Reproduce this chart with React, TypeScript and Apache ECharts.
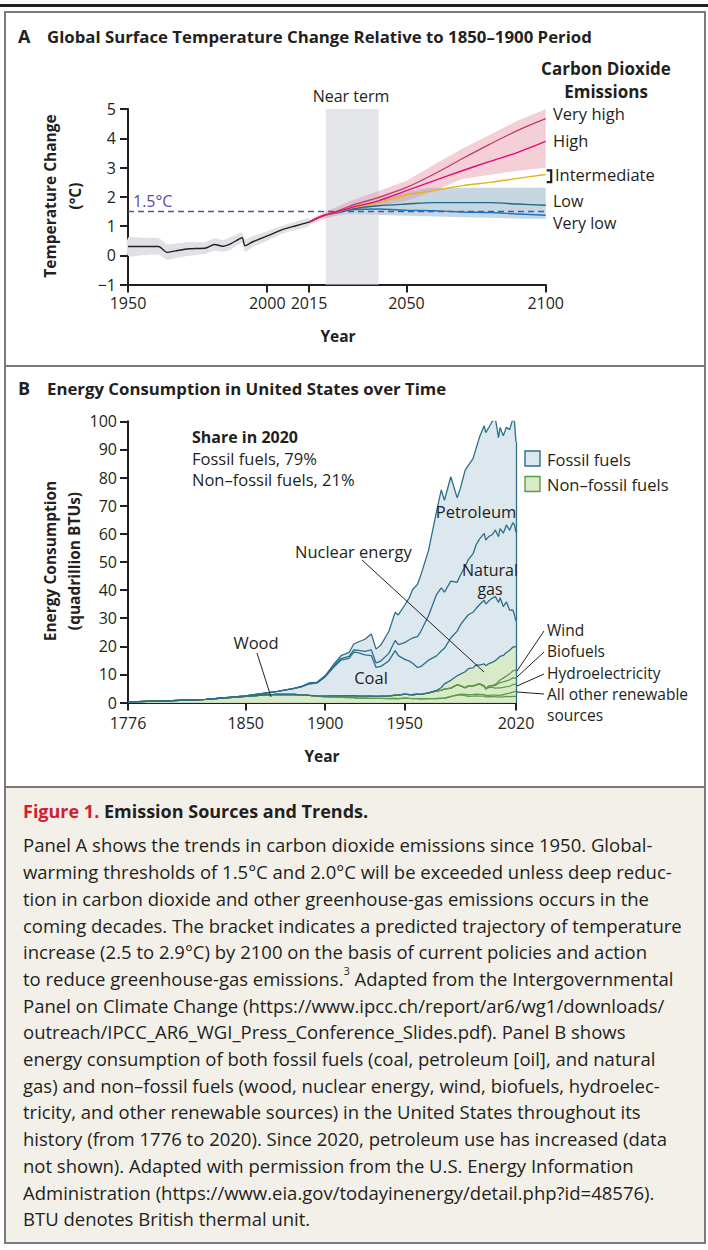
import React, { useEffect, useRef } from 'react';
import * as echarts from 'echarts';

// ---------- Panel A data ----------
const tickYearsA = [1950, 2000, 2015, 2050, 2100];
const histYears = [1950, 1955, 1961, 1964, 1967, 1972, 1978, 1981, 1984, 1987, 1991, 1992, 1995, 2000, 2005, 2010, 2015];
const histMean = [0.3, 0.3, 0.3, 0.1, 0.15, 0.22, 0.25, 0.37, 0.31, 0.4, 0.6, 0.32, 0.47, 0.66, 0.86, 1.0, 1.13];
const histLow = [-0.02, 0.0, 0.02, -0.15, -0.1, -0.02, 0.05, 0.15, 0.12, 0.2, 0.42, 0.12, 0.3, 0.5, 0.72, 0.87, 1.0];
const histHigh = [0.6, 0.6, 0.58, 0.38, 0.4, 0.45, 0.45, 0.58, 0.52, 0.62, 0.78, 0.55, 0.66, 0.82, 1.0, 1.14, 1.26];

const scenYears = [2015, 2020, 2025, 2030, 2040, 2050, 2060, 2070, 2080, 2090, 2100];
const veryHigh = [1.13, 1.35, 1.5, 1.69, 1.98, 2.32, 2.78, 3.3, 3.8, 4.27, 4.67];
const high = [1.13, 1.35, 1.48, 1.63, 1.86, 2.21, 2.55, 2.89, 3.21, 3.52, 3.89];
const intermediate = [1.13, 1.35, 1.47, 1.61, 1.8, 2.07, 2.21, 2.38, 2.49, 2.63, 2.76];
const low = [1.13, 1.35, 1.46, 1.58, 1.69, 1.75, 1.8, 1.8, 1.8, 1.75, 1.71];
const veryLow = [1.13, 1.35, 1.45, 1.55, 1.58, 1.54, 1.52, 1.48, 1.46, 1.41, 1.37];

const pinkYears = [2015, 2020, 2030, 2040, 2050, 2060, 2070, 2080, 2090, 2100];
const pinkLow = [1.05, 1.22, 1.52, 1.68, 1.86, 2.2, 2.61, 2.75, 2.89, 2.99];
const pinkHigh = [1.2, 1.45, 1.86, 2.2, 2.55, 3.1, 3.64, 4.12, 4.61, 4.99];

const blueYears = [2020, 2030, 2040, 2050, 2058, 2070, 2080, 2090, 2100];
const blueLow = [1.3, 1.4, 1.38, 1.35, 1.33, 1.3, 1.28, 1.26, 1.24];
const blueHigh = [1.4, 1.75, 1.98, 2.17, 2.31, 2.31, 2.31, 2.31, 2.31];

const nearTerm = [2021, 2040];
const threshold = 1.5;
const bracketRange = [2.5, 2.9];

// ---------- Panel B data (quadrillion BTUs) ----------
const tickYearsB = [1776, 1850, 1900, 1950, 2020];
const energyYears = [1776, 1800, 1825, 1850, 1860, 1870, 1880, 1885, 1890, 1895, 1900, 1905, 1910, 1915, 1918, 1920, 1925, 1929, 1932, 1935, 1940, 1944, 1946, 1950, 1953, 1955, 1958, 1960, 1965, 1970, 1973, 1975, 1979, 1983, 1985, 1988, 1990, 1993, 1995, 1997, 2000, 2001, 2003, 2005, 2007, 2009, 2010, 2012, 2014, 2016, 2018, 2019, 2020];
const wood = [0.25, 0.55, 1.1, 2.15, 2.6, 2.9, 2.85, 2.7, 2.5, 2.25, 2.0, 1.95, 1.85, 1.75, 1.7, 1.6, 1.55, 1.5, 1.45, 1.45, 1.4, 1.45, 1.4, 1.55, 1.45, 1.4, 1.35, 1.3, 1.35, 1.4, 1.5, 1.5, 2.1, 2.6, 2.7, 2.45, 2.2, 2.25, 2.35, 2.3, 2.25, 2.0, 2.05, 2.1, 2.1, 1.9, 2.0, 2.0, 2.2, 2.1, 2.2, 2.2, 2.1];
const otherRenewables = [0, 0, 0, 0, 0, 0, 0, 0, 0, 0, 0, 0, 0, 0, 0, 0, 0, 0, 0, 0, 0, 0, 0, 0, 0, 0, 0, 0.01, 0.02, 0.02, 0.05, 0.07, 0.08, 0.15, 0.25, 0.4, 0.55, 0.6, 0.6, 0.6, 0.55, 0.5, 0.5, 0.55, 0.55, 0.6, 0.65, 0.75, 0.95, 1.2, 1.5, 1.65, 1.85];
const hydro = [0, 0, 0, 0, 0, 0, 0, 0.01, 0.02, 0.1, 0.25, 0.39, 0.54, 0.66, 0.7, 0.74, 0.7, 0.79, 0.73, 0.8, 0.88, 1.2, 1.25, 1.42, 1.35, 1.35, 1.6, 1.6, 2.05, 2.63, 2.86, 3.15, 2.93, 3.5, 2.97, 2.33, 3.05, 2.9, 3.2, 3.64, 2.81, 2.24, 2.83, 2.7, 2.45, 2.67, 2.54, 2.63, 2.47, 2.47, 2.69, 2.56, 2.6];
const biofuels = [0, 0, 0, 0, 0, 0, 0, 0, 0, 0, 0, 0, 0, 0, 0, 0, 0, 0, 0, 0, 0, 0, 0, 0, 0, 0, 0, 0, 0, 0, 0, 0, 0, 0.06, 0.08, 0.08, 0.1, 0.12, 0.15, 0.15, 0.23, 0.25, 0.4, 0.6, 1.0, 1.6, 1.9, 1.95, 2.1, 2.3, 2.35, 2.3, 2.0];
const wind = [0, 0, 0, 0, 0, 0, 0, 0, 0, 0, 0, 0, 0, 0, 0, 0, 0, 0, 0, 0, 0, 0, 0, 0, 0, 0, 0, 0, 0, 0, 0, 0, 0, 0, 0, 0.02, 0.03, 0.03, 0.03, 0.03, 0.06, 0.07, 0.11, 0.18, 0.34, 0.72, 0.92, 1.34, 1.73, 2.1, 2.5, 2.7, 3.0];
const nuclear = [0, 0, 0, 0, 0, 0, 0, 0, 0, 0, 0, 0, 0, 0, 0, 0, 0, 0, 0, 0, 0, 0, 0, 0, 0, 0, 0.002, 0.006, 0.04, 0.24, 0.91, 1.9, 2.78, 3.2, 4.08, 5.66, 6.1, 6.41, 7.08, 6.6, 7.86, 8.03, 7.96, 8.16, 8.46, 8.36, 8.43, 8.06, 8.34, 8.43, 8.44, 8.45, 8.25];
const coal = [0, 0.01, 0.02, 0.22, 0.52, 1.05, 2.05, 2.84, 4.06, 4.6, 6.84, 10.0, 12.7, 13.3, 15.5, 15.5, 14.7, 14.4, 10.3, 10.6, 12.5, 15.8, 14.0, 12.35, 11.9, 11.2, 9.5, 9.84, 11.6, 12.3, 12.97, 12.66, 15.04, 15.89, 17.48, 18.85, 19.17, 19.8, 20.09, 21.45, 22.58, 21.91, 22.32, 22.8, 22.75, 19.69, 20.83, 17.38, 17.99, 14.23, 13.25, 11.32, 9.18];
const naturalGas = [0, 0, 0, 0, 0, 0, 0, 0.1, 0.26, 0.15, 0.25, 0.37, 0.54, 0.67, 0.8, 0.82, 1.26, 2.0, 1.6, 1.9, 2.7, 3.6, 3.9, 5.97, 7.6, 9.0, 11.0, 12.39, 15.77, 21.79, 22.51, 19.95, 20.24, 17.36, 17.7, 18.55, 19.6, 20.8, 22.67, 23.33, 23.82, 22.77, 22.9, 22.56, 23.66, 23.42, 24.57, 26.09, 27.38, 28.4, 31.0, 32.1, 31.5];
const petroleum = [0, 0, 0, 0, 0.003, 0.01, 0.1, 0.04, 0.16, 0.17, 0.23, 0.61, 1.01, 1.42, 2.1, 2.68, 4.28, 5.7, 4.9, 5.68, 7.76, 10.0, 10.6, 13.3, 15.1, 17.25, 18.5, 19.9, 23.25, 29.5, 34.8, 32.7, 37.1, 30.0, 30.9, 34.2, 33.55, 33.8, 34.4, 36.2, 38.26, 38.19, 38.8, 40.3, 39.77, 35.27, 35.97, 34.65, 34.76, 35.8, 36.9, 36.7, 32.2];

const captionLines = [
  'Panel A shows the trends in carbon dioxide emissions since 1950. Global-',
  'warming thresholds of 1.5°C and 2.0°C will be exceeded unless deep reduc-',
  'tion in carbon dioxide and other greenhouse-gas emissions occurs in the',
  'coming decades. The bracket indicates a predicted trajectory of temperature',
  'increase (2.5 to 2.9°C) by 2100 on the basis of current policies and action',
  'to reduce greenhouse-gas emissions.{sup|3} Adapted from the Intergovernmental',
  'Panel on Climate Change (https://www.ipcc.ch/report/ar6/wg1/downloads/',
  'outreach/IPCC_AR6_WGI_Press_Conference_Slides.pdf). Panel B shows',
  'energy consumption of both fossil fuels (coal, petroleum [oil], and natural',
  'gas) and non–fossil fuels (wood, nuclear energy, wind, biofuels, hydroelec-',
  'tricity, and other renewable sources) in the United States throughout its',
  'history (from 1776 to 2020). Since 2020, petroleum use has increased (data',
  'not shown). Adapted with permission from the U.S. Energy Information',
  'Administration (https://www.eia.gov/todayinenergy/detail.php?id=48576).',
  'BTU denotes British thermal unit.',
];

const FONT = '"Open Sans"';
const INK = '#231f20';
const TEAL = '#2c6f8c';
const FOSSIL_FILL = '#dce8ee';
const GREEN_FILL = '#d9eac8';
const GREEN_LINE = '#5f9a4b';
const FRAME = '#7a7a7a';

const pairs = (xs: number[], ys: number[]) => xs.map((x, i) => [x, ys[i]]);

function txt(text: string, x: number, y: number, opts: any = {}) {
  return {
    type: 'text',
    x,
    y,
    z: 100,
    rotation: opts.rotation || 0,
    style: {
      text,
      fill: opts.fill || INK,
      font: opts.font || `16.5px ${FONT}`,
      textAlign: opts.align || 'left',
      textVerticalAlign: opts.valign || 'middle',
      lineHeight: opts.lineHeight,
      rich: opts.rich,
    },
  };
}
function seg(x1: number, y1: number, x2: number, y2: number, color = INK, w = 1) {
  return { type: 'line', z: 100, shape: { x1, y1, x2, y2 }, style: { stroke: color, lineWidth: w } };
}

export default function App() {
  const ref = useRef<HTMLDivElement>(null);
  useEffect(() => {
    if (!ref.current) return;
    const chart = echarts.init(ref.current, undefined, { renderer: 'svg' });

    const axisCommon = {
      axisLine: { onZero: false, lineStyle: { color: INK, width: 2 } },
      axisTick: { length: 8, lineStyle: { color: INK, width: 2 } },
      splitLine: { show: false },
    };

    const lineA = (name: string, data: number[], color: string, width = 1.4) => ({
      name, type: 'line', xAxisIndex: 0, yAxisIndex: 0, data: pairs(scenYears, data), symbol: 'none',
      smooth: 0.3, lineStyle: { color, width }, z: 6, silent: true,
    });
    // band drawn as a polygon through the axis scales
    const band = (xs: number[], lo: number[], hi: number[], color: string, z: number, smooth = 0) => ({
      type: 'custom', xAxisIndex: 0, yAxisIndex: 0, silent: true, z,
      data: [[xs[0], lo[0]]],
      renderItem: (_p: any, api: any) => {
        const top = xs.map((x, i) => api.coord([x, hi[i]]));
        const bottom = xs.map((x, i) => api.coord([x, lo[i]])).reverse();
        return { type: 'polygon', shape: { points: top.concat(bottom), smooth }, style: { fill: color } };
      },
    });

    const energyLayers = [
      { name: 'Wood', v: wood, line: GREEN_LINE, fill: GREEN_FILL },
      { name: 'All other renewable sources', v: otherRenewables, line: GREEN_LINE, fill: GREEN_FILL },
      { name: 'Hydroelectricity', v: hydro, line: GREEN_LINE, fill: GREEN_FILL },
      { name: 'Biofuels', v: biofuels, line: GREEN_LINE, fill: GREEN_FILL },
      { name: 'Wind', v: wind, line: GREEN_LINE, fill: GREEN_FILL },
      { name: 'Nuclear energy', v: nuclear, line: TEAL, fill: GREEN_FILL },
      { name: 'Coal', v: coal, line: TEAL, fill: FOSSIL_FILL },
      { name: 'Natural gas', v: naturalGas, line: TEAL, fill: FOSSIL_FILL },
      { name: 'Petroleum', v: petroleum, line: TEAL, fill: FOSSIL_FILL },
    ];
    // cumulative tops of the stack
    const cum: number[][] = [];
    energyLayers.forEach((l, k) => {
      cum.push(l.v.map((v, i) => +(v + (k > 0 ? cum[k - 1][i] : 0)).toFixed(3)));
    });
    const last = energyYears.length - 1;
    const total2020 = cum[cum.length - 1][last];

    const areaSeries = energyLayers
      .map((l, k) => ({
        name: l.name + ' area', type: 'line', xAxisIndex: 1, yAxisIndex: 1,
        data: pairs(energyYears, cum[k]), symbol: 'none', silent: true,
        lineStyle: { width: 0, opacity: 0 }, areaStyle: { color: l.fill, opacity: 1 }, z: 2,
      }))
      .reverse();
    const lineSeries = energyLayers.map((l, k) => ({
      name: l.name, type: 'line', xAxisIndex: 1, yAxisIndex: 1,
      data: pairs(energyYears, cum[k]), symbol: 'none', silent: true,
      lineStyle: { color: l.line, width: 1.3 }, z: 3,
      markLine: k === energyLayers.length - 1 ? {
        symbol: 'none', silent: true, label: { show: false },
        lineStyle: { color: TEAL, width: 1.3, type: 'solid' },
        data: [[{ coord: [energyYears[last], 0] }, { coord: [energyYears[last], total2020] }]],
      } : undefined,
    }));

    const option: any = {
      animation: false,
      backgroundColor: '#ffffff',
      textStyle: { fontFamily: FONT },
      grid: [
        { left: 128, top: 109, width: 417.7, height: 175.5 },
        { left: 128, top: 421.3, width: 388, height: 281.2 },
      ],
      xAxis: [
        {
          gridIndex: 0, type: 'value', min: 1950, max: 2100, ...axisCommon,
          axisTick: { ...axisCommon.axisTick, customValues: tickYearsA },
          axisLabel: { customValues: tickYearsA, color: INK, fontSize: 16, margin: 10, formatter: (v: number) => String(v) },
        },
        {
          gridIndex: 1, type: 'value', min: 1776, max: 2020, ...axisCommon,
          axisTick: { ...axisCommon.axisTick, customValues: tickYearsB },
          axisLabel: { customValues: tickYearsB, color: INK, fontSize: 16, margin: 12, formatter: (v: number) => String(v) },
        },
      ],
      yAxis: [
        {
          gridIndex: 0, type: 'value', min: -1, max: 5, interval: 1, ...axisCommon,
          axisLabel: { color: INK, fontSize: 16, margin: 12, formatter: (v: number) => (v < 0 ? '−' + Math.abs(v) : String(v)) },
        },
        {
          gridIndex: 1, type: 'value', min: 0, max: 100, interval: 10, ...axisCommon,
          axisLabel: { color: INK, fontSize: 16, margin: 11 },
        },
      ],
      series: [
        {
          type: 'line', xAxisIndex: 0, yAxisIndex: 0, data: [], silent: true, z: 1,
          markArea: { silent: true, itemStyle: { color: '#e4e6e9' }, label: { show: false }, data: [[{ xAxis: nearTerm[0] }, { xAxis: nearTerm[1] }]] },
        },
        band(histYears, histLow, histHigh, '#dfe1e4', 2, 0.25),
        band(blueYears, blueLow, blueHigh, '#c7d7e1', 2),
        band(pinkYears, pinkLow, pinkHigh, 'rgba(232,140,158,0.42)', 3),
        {
          type: 'line', xAxisIndex: 0, yAxisIndex: 0, data: pairs(histYears, histMean), symbol: 'none', smooth: 0.2,
          lineStyle: { color: INK, width: 1.4 }, z: 5, silent: true,
          markLine: {
            symbol: 'none', silent: true, label: { show: false },
            lineStyle: { color: '#5a4ea6', width: 1.3, type: [6, 4] },
            data: [{ yAxis: threshold }],
          },
        },
        lineA('Very low', veryLow, '#1b74bf'),
        lineA('Low', low, '#1f6a88'),
        lineA('Intermediate', intermediate, '#e3b311'),
        lineA('Very high', veryHigh, '#bb3b6b', 1.2),
        lineA('High', high, '#e5097f'),
        {
          type: 'custom', xAxisIndex: 0, yAxisIndex: 0, silent: true, z: 7,
          data: [[2100, bracketRange[0], bracketRange[1]]],
          renderItem: (_p: any, api: any) => {
            const t = api.coord([api.value(0), api.value(2)]);
            const b = api.coord([api.value(0), api.value(1)]);
            return {
              type: 'polyline',
              shape: { points: [[t[0] + 1, t[1]], [t[0] + 5.5, t[1]], [b[0] + 5.5, b[1]], [b[0] + 1, b[1]]] },
              style: { stroke: INK, lineWidth: 2.2, fill: 'none' },
            };
          },
        },
        ...areaSeries,
        ...lineSeries,
      ],
      graphic: [
        { type: 'rect', z: 0, shape: { x: 6, y: 788, width: 698, height: 454 }, style: { fill: '#f3f0e9' } },
        { type: 'rect', z: 100, shape: { x: 0, y: 4, width: 708, height: 3 }, style: { fill: INK } },
        { type: 'rect', z: 100, shape: { x: 5, y: 12, width: 700, height: 1231 }, style: { fill: 'none', stroke: FRAME, lineWidth: 2 } },
        seg(5, 366, 705, 366, FRAME, 2),
        seg(5, 787, 705, 787, FRAME, 2),
        // Panel A texts
        txt('A', 18, 36, { font: `bold 18px ${FONT}` }),
        txt('Global Surface Temperature Change Relative to 1850–1900 Period', 47, 36, { font: `bold 16.8px ${FONT}` }),
        txt('Carbon Dioxide', 606, 68, { font: `bold 17px ${FONT}`, align: 'center' }),
        txt('Emissions', 606, 91, { font: `bold 17px ${FONT}`, align: 'center' }),
        txt('Near term', 351, 96, { font: `16px ${FONT}`, align: 'center' }),
        txt('1.5°C', 133, 201, { font: `16px ${FONT}`, fill: '#5a4ea6' }),
        txt('Very high', 553, 113),
        txt('High', 553, 140),
        txt('Intermediate', 555, 174),
        txt('Low', 553, 200.5, { font: `16px ${FONT}` }),
        txt('Very low', 553, 222.5, { font: `16px ${FONT}` }),
        txt('Temperature Change\n(°C)', 62.7, 196, { font: `bold 15.5px ${FONT}`, align: 'center', lineHeight: 24.5, rotation: Math.PI / 2 }),
        txt('Year', 338, 336, { font: `bold 15.5px ${FONT}`, align: 'center' }),
        // Panel B texts
        txt('B', 18, 388, { font: `bold 18px ${FONT}` }),
        txt('Energy Consumption in United States over Time', 47, 388, { font: `bold 16.8px ${FONT}` }),
        txt('Share in 2020', 192, 437, { font: `bold 16px ${FONT}` }),
        txt('Fossil fuels, 79%', 192, 458),
        txt('Non–fossil fuels, 21%', 192, 479),
        txt('Nuclear energy', 295, 551),
        seg(362, 560, 484, 672),
        txt('Wood', 256, 642, { align: 'center' }),
        seg(257, 653, 271, 697),
        txt('Coal', 371, 677, { align: 'center' }),
        txt('Petroleum', 476, 511, { align: 'center' }),
        txt('Natural', 490, 569.5, { align: 'center', font: `16px ${FONT}` }),
        txt('gas', 490, 589, { align: 'center', font: `16px ${FONT}` }),
        { type: 'rect', z: 100, shape: { x: 525, y: 451, width: 15, height: 15 }, style: { fill: FOSSIL_FILL, stroke: TEAL, lineWidth: 1.4 } },
        { type: 'rect', z: 100, shape: { x: 525, y: 476.5, width: 15, height: 15 }, style: { fill: GREEN_FILL, stroke: GREEN_LINE, lineWidth: 1.4 } },
        txt('Fossil fuels', 547, 459),
        txt('Non–fossil fuels', 547, 484),
        txt('Wind', 547, 630, { font: `15.5px ${FONT}` }),
        txt('Biofuels', 547, 651.3, { font: `15.5px ${FONT}` }),
        txt('Hydroelectricity', 547, 672.6, { font: `15.5px ${FONT}` }),
        txt('All other renewable', 547, 693.9, { font: `15.5px ${FONT}` }),
        txt('sources', 547, 715.2, { font: `15.5px ${FONT}` }),
        seg(544, 631, 517, 671),
        seg(544, 652, 517, 677),
        seg(544, 674, 517, 686),
        seg(544, 694, 517, 692),
        txt('Energy Consumption\n(quadrillion BTUs)', 62.2, 561, { font: `bold 15.5px ${FONT}`, align: 'center', lineHeight: 24.5, rotation: Math.PI / 2 }),
        txt('Year', 322, 756, { font: `bold 15.5px ${FONT}`, align: 'center' }),
        // Caption
        txt('{red|Figure 1.} Emission Sources and Trends.', 23, 811, {
          font: `bold 18px ${FONT}`,
          rich: { red: { fill: '#d0202e', font: `bold 18px ${FONT}` } },
        }),
        txt(captionLines.join('\n'), 23, 831.6, {
          font: `18.5px ${FONT}`, valign: 'top', lineHeight: 26.7,
          rich: { sup: { font: `11px ${FONT}`, fill: INK, verticalAlign: 'top', lineHeight: 20 } },
        }),
      ],
    };
    chart.setOption(option);
    return () => chart.dispose();
  }, []);
  return <div ref={ref} style={{ position: 'absolute', left: 0, top: 0, width: 708, height: 1250 }} />;
}
